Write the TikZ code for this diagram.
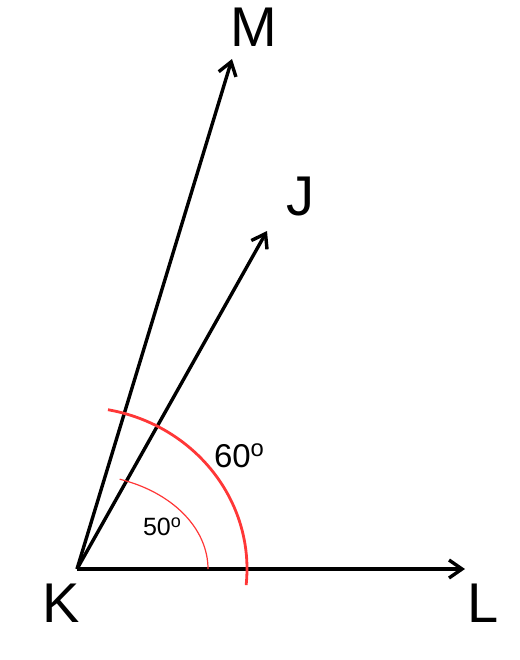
\documentclass[tikz,border=0pt]{standalone}
\usepackage{fontspec}
\setmainfont{Liberation Sans}
\usepackage{xcolor}
\usepackage{tikz}
\usetikzlibrary{arrows.meta}
\definecolor{arcred}{RGB}{255,55,55}
\newcommand{\ordo}{\raisebox{0.34em}{\scalebox{0.72}{o}}}

\begin{document}
\begin{tikzpicture}[x=0.5pt,y=-0.5pt,
	ray/.style={line width=1.7pt,-{Straight Barb[length=6.5pt,width=9pt]}},
	lbl/.style={font=\fontsize{28}{30}\selectfont,inner sep=0pt},
	ang/.style={inner sep=0pt}]
	
	\useasboundingbox (0,0) rectangle (520,660);
	
	\coordinate (K) at (77,569);
	\coordinate (L) at (465,569);
	\coordinate (M) at (232,59);
	\coordinate (J) at (267,231);
	
	\node [lbl] (k) at (61,603) {K};
	\node [lbl] (l) at (483,603) {L};
	\node [lbl] (m) at (253.5,27) {M};
	\node [lbl] (j) at (300,197) {J};
	
	\draw[ray] (K)--(L);
	\draw[ray] (K)--(M);
	\draw[ray] (K)--(J);
	
	% y points down, so the angles are negative
	\draw[arcred,line width=0.6pt] (K) ++(131,0) arc[start angle=0,end angle=-71,x radius=131,y radius=95];
	\draw[arcred,line width=1.4pt] (K) ++(5.7:170 and 162) arc[start angle=5.7,end angle=-79.5,x radius=170,y radius=162];
	
	\node [ang,font=\fontsize{16.5}{18}\selectfont] (big) at (239,456) {60\ordo};
	\node [ang,font=\fontsize{12.5}{14}\selectfont] (small) at (162,527) {50\ordo};
	
\end{tikzpicture}
\end{document}
